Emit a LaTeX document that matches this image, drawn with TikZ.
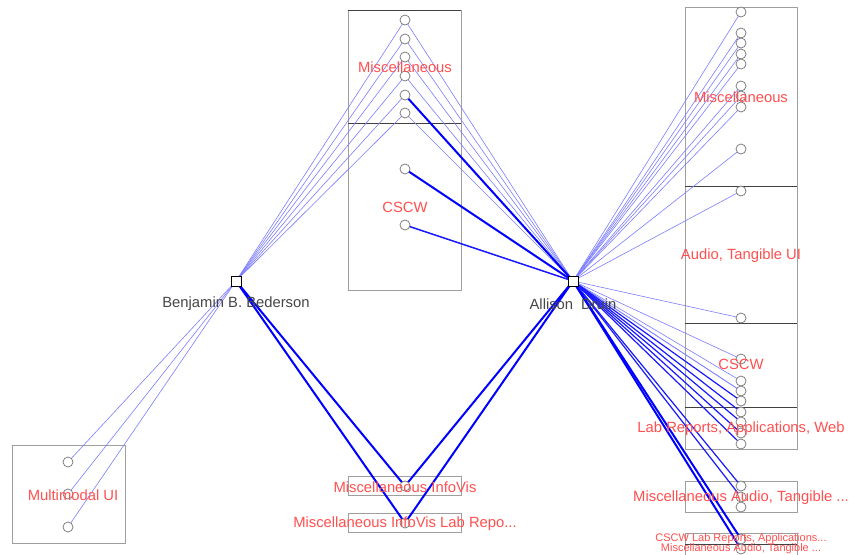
\documentclass[tikz,border=0pt]{standalone}
\usepackage{fontspec}
\setmainfont{Liberation Sans}
\definecolor{lblred}{RGB}{255,80,80}
\definecolor{thinblue}{RGB}{125,125,255}
\definecolor{namegray}{RGB}{70,70,70}
\begin{document}
\begin{tikzpicture}[x=1pt,y=-1pt,
  grp/.style={draw=gray!75, line width=0.8pt},
  divl/.style={draw=black!75, line width=0.8pt},
  thinE/.style={draw=thinblue, line width=0.6pt},
  midE/.style={draw=blue!90, line width=1.2pt},
  thickE/.style={draw=blue, line width=2pt},
  circ/.style={circle, draw=gray!90!black, fill=white, minimum size=10pt, inner sep=0pt, line width=0.7pt},
  person/.style={rectangle, draw=black, fill=white, minimum size=10pt, inner sep=0pt, line width=0.7pt},
  lbl/.style={text=lblred, font=\fontsize{14.8}{16}\selectfont, inner sep=0pt, yshift=-1.5pt},
  slbl/.style={text=lblred, font=\fontsize{11}{12}\selectfont, inner sep=0pt},
  pname/.style={text=namegray, font=\fontsize{14.8}{16}\selectfont, inner sep=0pt, yshift=-2pt}]
\useasboundingbox (0,0) rectangle (850,554);
\fill[white] (0,0) rectangle (850,554);
% group boxes
\draw[grp] (348,10) rectangle (461,290);
\draw[divl] (348,10) -- (461,10);
\draw[divl] (348,123) -- (461,123);
\draw[grp] (348,476) rectangle (461,495);
\draw[grp] (348,513) rectangle (461,532);
\draw[grp] (12,445) rectangle (125,543);
\draw[grp] (685,7) rectangle (797,449);
\draw[divl] (685,186) -- (797,186);
\draw[divl] (685,323) -- (797,323);
\draw[divl] (685,407) -- (797,407);
\draw[grp] (685,481) rectangle (797,512);
\draw[grp] (685,533) rectangle (797,560);
\draw[divl] (685,544) -- (797,544);
% person nodes
\node[person] (bed) at (236,281) {};
\node[person] (dru) at (573,281) {};
% middle circles
\foreach \n/\y in {m1/20,m2/39,m3/57,m4/76,m5/95,m6/113,c1/169,c2/225,iv/486,ivl/523}
  \coordinate (\n) at (405,\y);
% left circles
\foreach \n/\y in {u1/462,u2/494,u3/527}
  \coordinate (\n) at (68,\y);
% right circles
\foreach \n/\y in {r1/12,r2/33,r3/43,r4/54,r5/64,r6/86,r7/96,r8/107,r9/149,a1/191,a2/318,s1/359,s2/381,s3/391,s4/401,l1/412,l2/422,l3/433,l4/444,ma1/486,ma2/497,ma3/507,x1/539,x2/549}
  \coordinate (\n) at (741,\y);
% edges Bederson
\foreach \n in {m1,m2,m3,m4,m5,m6,u1,u2,u3}
  \draw[thinE] (bed.center) -- (\n);
\draw[thickE] (bed.center) -- (iv);
\draw[thickE] (bed.center) -- (ivl);
% edges Druin
\foreach \n in {m1,m2,m3,m4,m6,r1,r2,r3,r4,r5,r6,r7,r8,r9,a1,a2,s1,s2}
  \draw[thinE] (dru.center) -- (\n);
\draw[thinE, line width=0.9pt] (dru.center) -- (s3);
\draw[thickE] (dru.center) -- (m5);
\draw[thickE] (dru.center) -- (c1);
\draw[midE, line width=1.5pt] (dru.center) -- (c2);
\foreach \n in {s4,l1,l2,l3,l4,ma1,ma2}
  \draw[midE] (dru.center) -- (\n);
\draw[thickE] (dru.center) -- (iv);
\draw[thickE] (dru.center) -- (ivl);
\draw[thickE] (dru.center) -- (x1);
\draw[thickE] (dru.center) -- (x2);
% circles on top
\foreach \n in {m1,m2,m3,m4,m5,m6,c1,c2,iv,ivl,u1,u2,u3,r1,r2,r3,r4,r5,r6,r7,r8,r9,a1,a2,s1,s2,s3,s4,l1,l2,l3,l4,ma1,ma2,ma3,x1,x2}
  \node[circ] (k\n) at (\n) {};
\node[person] at (bed) {};
\node[person] at (dru) {};
% labels
\node[lbl] (tmm) at (405,66) {Miscellaneous};
\node[lbl] (tmc) at (405,206) {CSCW};
\node[lbl] (tiv) at (405,486) {Miscellaneous InfoVis};
\node[lbl] (tivl) at (405,522) {Miscellaneous InfoVis Lab Repo...};
\node[lbl] (tmu) at (73,494) {Multimodal UI};
\node[lbl] (trm) at (741,96) {Miscellaneous};
\node[lbl] (tra) at (741,254) {Audio, Tangible UI};
\node[lbl] (trc) at (741,363) {CSCW};
\node[lbl] (trl) at (741,427) {Lab Reports, Applications, Web};
\node[lbl] (trma) at (741,496) {Miscellaneous Audio, Tangible ...};
\node[slbl] (tx1) at (741,539) {CSCW Lab Reports, Applications...};
\node[slbl] (tx2) at (741,549) {Miscellaneous Audio, Tangible ...};
\node[pname] (nbed) at (236,302) {Benjamin B. Bederson};
\node[pname] (ndru) at (573,302) {Allison\hspace{0.25em} Druin};
\end{tikzpicture}
\end{document}
